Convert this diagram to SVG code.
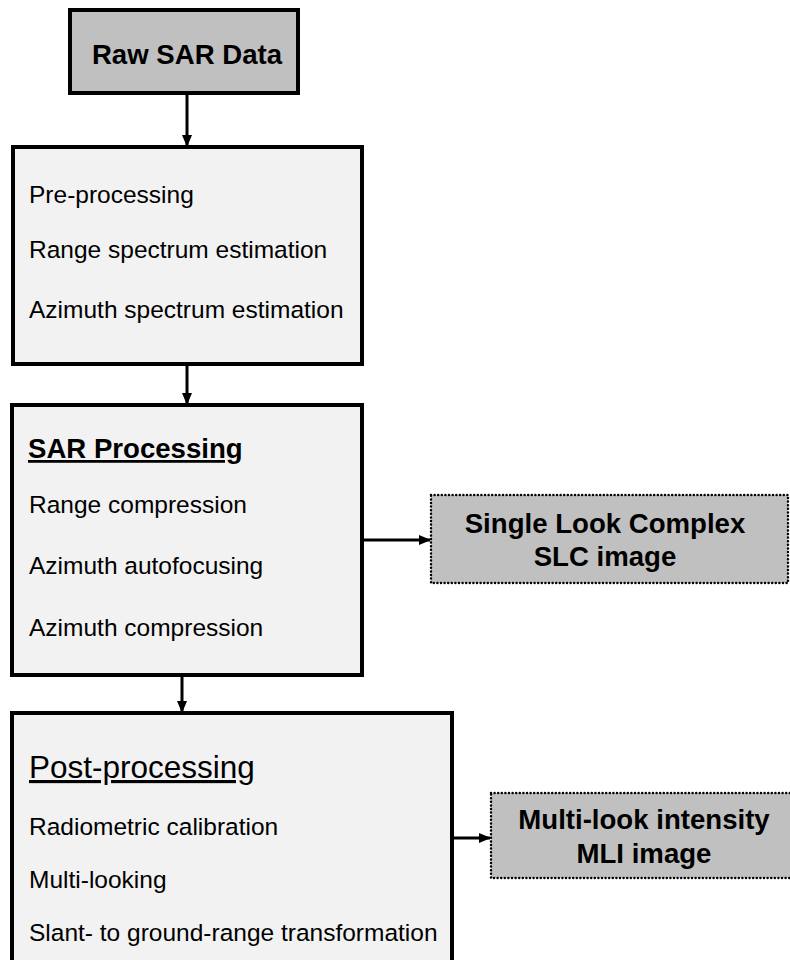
<svg xmlns="http://www.w3.org/2000/svg" width="790" height="960" viewBox="0 0 790 960">
<style>
.main{fill:#f2f2f2;stroke:#000;stroke-width:4}
.out{fill:#c0c0c0;stroke:#000;stroke-width:2.5;stroke-dasharray:0 3.6;stroke-linecap:round}
.t{font-family:"Liberation Sans",Arial,sans-serif;font-size:24.5px;fill:#000}
.b{font-family:"Liberation Sans",Arial,sans-serif;font-weight:bold;font-size:27.6px;fill:#000}
.c{stroke:#000;stroke-width:3;fill:none;marker-end:url(#ah)}
</style>
<defs>
<marker id="ah" markerUnits="userSpaceOnUse" markerWidth="12" markerHeight="12" viewBox="0 0 12 12" refX="11" refY="6" orient="auto">
<path d="M0,1 L12,6 L0,11 Z" fill="#000"/>
</marker>
</defs>
<rect width="790" height="960" fill="#fff"/>
<g id="connectors">
<line class="c" x1="187" y1="93" x2="187" y2="146"/>
<line class="c" x1="187" y1="364" x2="187" y2="404"/>
<line class="c" x1="182" y1="675" x2="182" y2="712"/>
<line class="c" x1="362" y1="540" x2="430" y2="540"/>
<line class="c" x1="452" y1="838" x2="490" y2="838"/>
</g>
<g id="raw">
<rect x="70" y="10" width="228" height="83" fill="#c0c0c0" stroke="#000" stroke-width="4"/>
<text class="b" x="187" y="64" text-anchor="middle">Raw SAR Data</text>
</g>
<g id="preproc">
<rect class="main" x="13" y="147" width="349" height="217"/>
<text class="t" x="29" y="203">Pre-processing</text>
<text class="t" x="29" y="258">Range spectrum estimation</text>
<text class="t" x="29" y="318">Azimuth spectrum estimation</text>
</g>
<g id="sarproc">
<rect class="main" x="12" y="405" width="350" height="270"/>
<text class="b" x="28" y="458" text-decoration="underline">SAR Processing</text>
<text class="t" x="29" y="513">Range compression</text>
<text class="t" x="29" y="574">Azimuth autofocusing</text>
<text class="t" x="29" y="636">Azimuth compression</text>
</g>
<g id="slc">
<rect class="out" x="431" y="495" width="357" height="88"/>
<text class="b" x="605" y="533" text-anchor="middle">Single Look Complex</text>
<text class="b" x="605" y="566" text-anchor="middle">SLC image</text>
</g>
<g id="postproc">
<rect class="main" x="12" y="713" width="440" height="260"/>
<text class="t" x="29" y="778" style="font-size:31.5px" text-decoration="underline">Post-processing</text>
<text class="t" x="29" y="835">Radiometric calibration</text>
<text class="t" x="29" y="888">Multi-looking</text>
<text class="t" x="29" y="941">Slant- to ground-range transformation</text>
</g>
<g id="mli">
<rect class="out" x="491" y="793" width="310" height="85"/>
<text class="b" x="644" y="829" text-anchor="middle">Multi-look intensity</text>
<text class="b" x="644" y="863" text-anchor="middle">MLI image</text>
</g>
</svg>
